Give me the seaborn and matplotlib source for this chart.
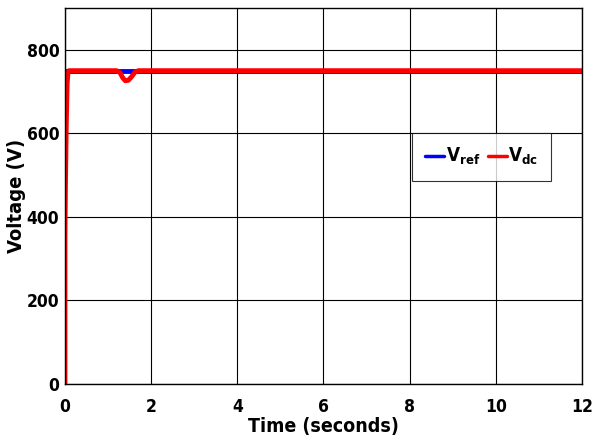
import matplotlib
matplotlib.use("Agg")
import matplotlib.pyplot as plt
import seaborn as sns
import pandas as pd

# reference voltage (V) vs time (s)
t_ref = [0.0, 0.05, 1.2, 1.35, 1.65, 12.0]
v_ref = [750, 750, 750, 750, 750, 750]

# measured dc-link voltage
t_dc = [0.0, 0.0, 0.01, 0.03, 0.05, 0.07, 0.09, 1.2, 1.28, 1.34, 1.4, 1.47, 1.55, 1.62, 1.7, 12.0]
v_dc = [0, 350, 470, 620, 720, 745, 750, 750, 745, 733, 726, 727, 736, 746, 750, 750]

sns.set_style("white", {"text.color": "black", "axes.labelcolor": "black",
                        "xtick.color": "black", "ytick.color": "black"})
plt.rcParams['font.family'] = ['DejaVu Sans']
plt.rcParams['font.stretch'] = 'condensed'

df_ref = pd.DataFrame({"t": t_ref, "v": v_ref})
df_dc = pd.DataFrame({"t": t_dc, "v": v_dc})

fig = plt.figure(figsize=(6, 4.45), dpi=100)
ax = fig.add_axes([0.1083, 0.137, 0.8617, 0.845])

sns.lineplot(data=df_ref, x="t", y="v", ax=ax, color="blue", lw=3.5, label="V$_{\\mathregular{ref}}$",
             sort=False, estimator=None)
sns.lineplot(data=df_dc, x="t", y="v", ax=ax, color="red", lw=3.5, label="V$_{\\mathregular{dc}}$",
             sort=False, estimator=None)

ax.set_xlim(0, 12)
ax.set_ylim(0, 900)
ax.set_xticks(range(0, 13, 2))
ax.set_yticks(range(0, 900, 200))
ax.grid(True, color="black", lw=0.8)
for s in ax.spines.values():
    s.set_color("black")
    s.set_linewidth(1.0)
ax.tick_params(direction="in", length=4, labelsize=12.5, colors="black")
ax.tick_params(axis="x", pad=10)
ax.tick_params(axis="y", pad=4)
for lab in ax.get_xticklabels() + ax.get_yticklabels():
    lab.set_fontweight("bold")
ax.set_xlabel("Time (seconds)", fontsize=14, fontweight="bold", labelpad=1, color="black")
ax.set_ylabel("Voltage (V)", fontsize=14.5, fontweight="bold", color="black")
ax.yaxis.set_label_coords(-0.075, 0.5)

leg = ax.legend(loc="upper left", bbox_to_anchor=(0.687, 0.701), bbox_transform=fig.transFigure,
                borderaxespad=0, ncol=2, fontsize=13.5, frameon=True, fancybox=False, handlelength=1.0,
                handletextpad=0.1, columnspacing=0.4, borderpad=0.7)
leg.get_frame().set_edgecolor("black")
leg.get_frame().set_linewidth(0.8)
for line in leg.get_lines():
    line.set_linewidth(2.5)
for txt in leg.get_texts():
    txt.set_fontweight("bold")
    txt.set_color("black")

fig.savefig("out.png", dpi=100)
